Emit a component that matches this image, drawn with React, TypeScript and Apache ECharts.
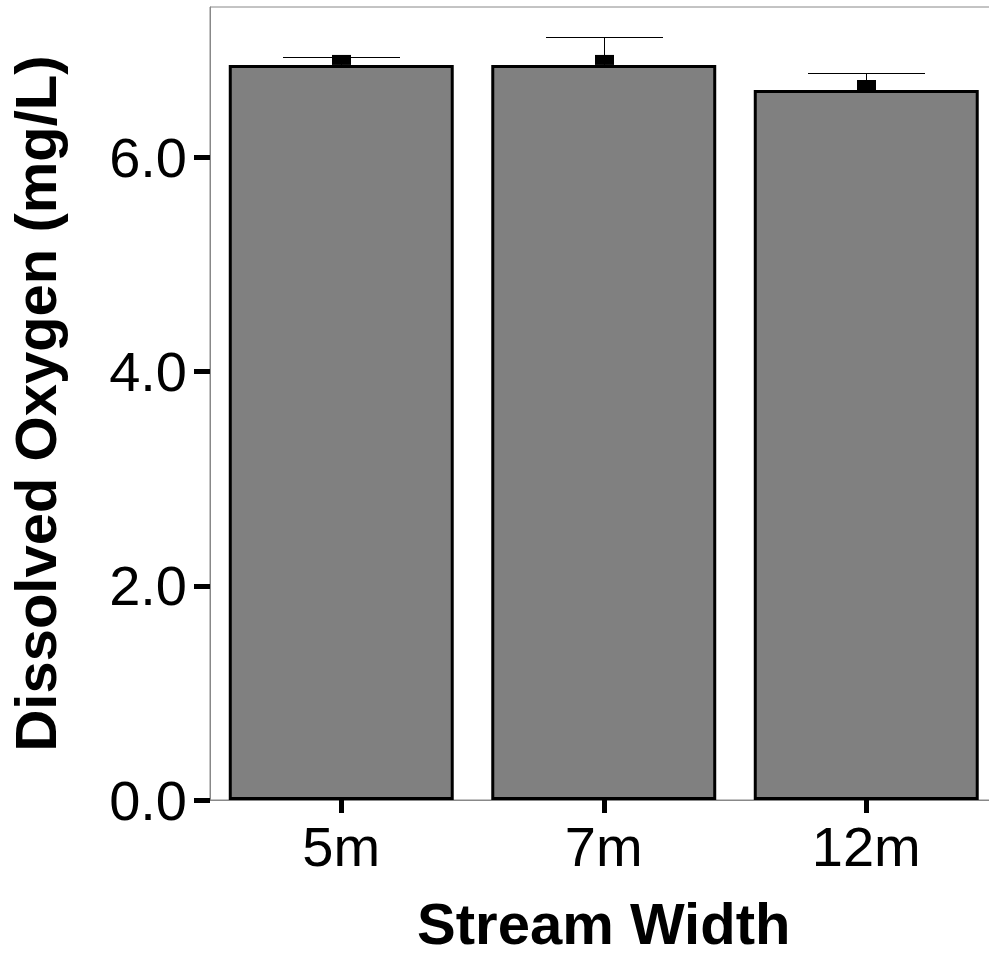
import React, { useEffect, useRef } from "react";
import * as echarts from "echarts";

const categories = ["5m", "7m", "12m"];
const meanValues = [6.864, 6.864, 6.63];
const upperValues = [6.939, 7.125, 6.789];
const yTicks = [0, 2, 4, 6];

export default function App() {
  const ref = useRef<HTMLDivElement>(null);
  useEffect(() => {
    if (!ref.current) return;
    const chart = echarts.init(ref.current, null, { renderer: "svg" });
    const font = "'Liberation Sans', Arial, sans-serif";
    chart.setOption({
      animation: false,
      grid: {
        left: 210,
        top: 7,
        width: 787.5,
        height: 793,
        outerBoundsMode: "none",
        containLabel: false,
        show: true,
        borderColor: "#888888",
        borderWidth: 1,
        backgroundColor: "transparent",
      },
      xAxis: {
        type: "category",
        data: categories,
        name: "Stream Width",
        nameLocation: "middle",
        nameGap: 94,
        nameTextStyle: { fontFamily: font, fontSize: 58, fontWeight: "bold", color: "#000" },
        axisLine: { show: true, lineStyle: { color: "#888888", width: 1 } },
        axisTick: { show: true, alignWithLabel: true, length: 13, lineStyle: { color: "#000", width: 5 } },
        axisLabel: { fontFamily: font, fontSize: 56, color: "#000", margin: 18 },
      },
      yAxis: {
        type: "value",
        min: 0,
        max: 7.405,
        name: "Dissolved Oxygen (mg/L)",
        nameLocation: "middle",
        nameGap: 146,
        nameTextStyle: { fontFamily: font, fontSize: 58, fontWeight: "bold", color: "#000" },
        splitLine: { show: false },
        axisLine: { show: true, lineStyle: { color: "#888888", width: 1 } },
        axisTick: { show: true, length: 16, customValues: yTicks, lineStyle: { color: "#000", width: 5 } },
        axisLabel: {
          fontFamily: font,
          fontSize: 56,
          color: "#000",
          margin: 23,
          customValues: yTicks,
          formatter: (v: number) => v.toFixed(1),
        },
      },
      series: [
        {
          type: "bar",
          data: meanValues,
          barWidth: "85.7%",
          itemStyle: { color: "#808080", borderColor: "#000", borderWidth: 3 },
        },
        {
          type: "custom",
          data: categories.map((c, i) => [i, meanValues[i], upperValues[i]]),
          z: 5,
          renderItem: (params: any, api: any) => {
            const x = api.value(0);
            const mean = api.coord([x, api.value(1)]);
            const up = api.coord([x, api.value(2)]);
            const cx = Math.round(mean[0]) + 0.5;
            const capHalf = 58.5;
            const ly = Math.round(up[1]) + 0.5;
            return {
              type: "group",
              children: [
                {
                  type: "line",
                  shape: { x1: cx, y1: ly, x2: cx, y2: mean[1] },
                  style: { stroke: "#000", lineWidth: 1 },
                },
                {
                  type: "line",
                  shape: { x1: cx - capHalf, y1: ly, x2: cx + capHalf, y2: ly },
                  style: { stroke: "#000", lineWidth: 1 },
                },
                {
                  type: "rect",
                  shape: { x: cx - 9.5, y: mean[1] - 10, width: 19, height: 10 },
                  style: { fill: "#000" },
                },
              ],
            };
          },
        },
      ],
    });
    return () => chart.dispose();
  }, []);
  return (
    <div style={{ position: "fixed", left: 0, top: 0, width: 989, height: 956, overflow: "hidden", background: "#fff" }}>
      <div ref={ref} style={{ width: 989, height: 956 }} />
    </div>
  );
}
